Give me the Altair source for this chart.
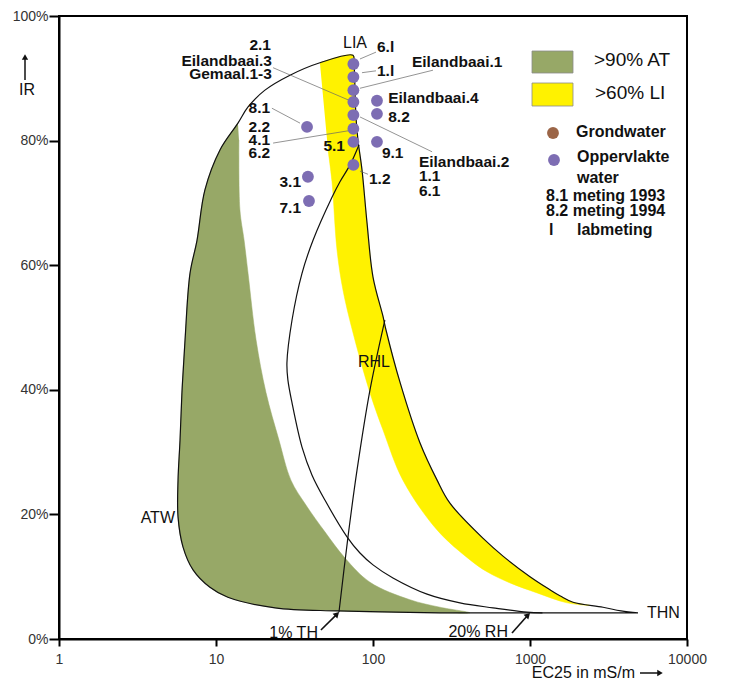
import altair as alt
import pandas as pd

# ---------------- data (EC25 in mS/m, IR in %) ----------------
# outer closed boundary: THN -> ATW -> LIA -> THN
outer_ec = [4875, 3800, 2917, 1879, 1560, 1341, 1000, 673, 515, 309, 256, 199, 149, 121, 116, 100, 91.6, 85.1,
            80.2, 77.9, 76.8, 75.7, 74.6, 45.9, 29.6, 20.5, 16.0, 13.8, 10.6, 8.5, 7.57, 6.83, 6.35, 6.07,
            5.9, 5.73, 5.73, 6.16, 7.14, 9.15, 11.9, 23.8, 59.8, 267, 1000, 4875]
outer_ir = [4.2, 4.5, 5.1, 5.9, 6.9, 7.9, 10.0, 13.3, 15.9, 21.8, 25.5, 31.5, 41.1, 49.6, 51.7, 58.1, 66.8, 75.3,
            80.1, 83.8, 88.1, 92.5, 93.7, 92.5, 90.5, 88.1, 85.4, 82.8, 78.5, 72.1, 64.0, 58.7, 48.0, 39.6,
            31.9, 25.5, 19.6, 14.8, 11.1, 8.3, 6.7, 5.0, 4.5, 4.2, 4.2, 4.2]

# inner curve
inner_ec = [81.4, 71.4, 61.6, 54.8, 41.5, 35.3, 30.5, 28.3, 28.7, 30.5, 35.3, 40.9, 49.4, 68.3, 82.6, 100,
            134, 221, 358, 581, 957, 1200]
inner_ir = [79.3, 76.1, 73.4, 70.9, 64.0, 58.7, 51.2, 44.3, 41.6, 37.9, 30.8, 26.3, 22.3, 16.4, 13.8, 11.9,
            9.8, 7.2, 5.8, 5.0, 4.3, 4.2]

# RHL line
rhl_ec = [60.7, 69.3, 79.1, 95.7, 119]
rhl_ir = [4.3, 16.4, 27.1, 40.0, 51.2]

# >90% AT area
green_ec = [13.8, 10.6, 8.5, 7.57, 6.83, 6.35, 6.07, 5.9, 5.73, 5.73, 6.16, 7.14, 9.15, 11.9, 23.8, 59.8, 267,
            415, 267, 172, 95.7, 66.3, 49.4, 37.4, 30.0, 25.2, 20.8, 18.0, 16.0, 15.1, 14.2, 14.0]
green_ir = [82.8, 78.5, 72.1, 64.0, 58.7, 48.0, 39.6, 31.9, 25.5, 19.6, 14.8, 11.1, 8.3, 6.7, 5.0, 4.5, 4.2,
            4.2, 5.1, 6.3, 9.1, 13.0, 17.2, 21.5, 25.5, 31.9, 39.6, 48.0, 58.7, 64.0, 68.9, 80.1]

# >60% LI area
yellow_ec = [45.9, 74.6, 75.7, 76.8, 77.9, 80.2, 85.1, 91.6, 100, 116, 121, 149, 199, 256, 309, 515, 673, 1000,
             1341, 1560, 1879, 2400, 1721, 1109, 746, 532, 415, 256, 155, 116, 95.7, 73.8, 64.4, 59.0, 54.8,
             51.7]
yellow_ir = [92.5, 93.7, 92.5, 88.1, 83.8, 80.1, 75.3, 66.8, 58.1, 51.7, 49.6, 41.1, 31.5, 25.5, 21.8, 15.9,
             13.3, 10.0, 7.9, 6.9, 5.9, 5.4, 5.8, 7.4, 9.0, 10.8, 12.7, 17.5, 25.5, 33.5, 39.5, 49.6, 56.0, 62.4,
             73.4, 78.5]

# surface water samples
pt_ec = [75, 75, 75, 75, 75, 75, 75, 75, 106, 106, 106, 38, 38.5, 39.1]
pt_ir = [92.3, 90.2, 88.1, 86.2, 84.1, 81.9, 79.8, 76.1, 86.4, 84.3, 79.8, 82.2, 74.2, 70.3]

# sample labels
lab_r_txt = ["6.l", "1.l", "Eilandbaai.1", "Eilandbaai.4", "8.2", "9.1", "Eilandbaai.2", "1.1", "6.1", "1.2"]
lab_r_ec = [106, 106, 177, 125, 125, 114, 196, 196, 196, 94.3]
lab_r_ir = [95.0, 91.2, 92.6, 86.8, 83.8, 78.0, 76.6, 74.3, 71.9, 73.8]
lab_l_txt = ["2.1", "Eilandbaai.3", "Gemaal.1-3", "8.1", "2.2", "4.1", "6.2", "5.1", "3.1", "7.1"]
lab_l_ec = [22.4, 22.7, 22.7, 22.1, 22.1, 22.1, 22.1, 66.3, 34.8, 34.8]
lab_l_ir = [95.3, 92.8, 90.7, 85.2, 82.2, 80.1, 78.0, 79.1, 73.4, 69.2]

# leader lines (start / end)
lead_ec0 = [82.6, 85.1, 82.6, 23.1, 22.7, 23.1, 82.6, 82.6]
lead_ir0 = [93.1, 90.9, 88.4, 91.7, 85.2, 79.6, 83.8, 75.1]
lead_ec1 = [104.5, 104.5, 241, 74.6, 34.3, 74.6, 238, 92.9]
lead_ir1 = [94.2, 91.2, 91.3, 86.2, 82.8, 81.7, 78.2, 74.6]

# curve names
ann_txt = ["LIA", "RHL"]
ann_ec = [76.8, 101.4]
ann_ir = [95.7, 44.5]
ann_r_txt = ["ATW", "1% TH", "20% RH"]
ann_r_ec = [5.48, 44.6, 724]
ann_r_ir = [19.4, 0.96, 1.1]
ann_l_txt = ["THN"]
ann_l_ec = [5560]
ann_l_ir = [4.2]

# arrows under the labels
arr_ec0 = [46.6, 768]
arr_ir0 = [1.44, 0.96]
arr_ec1 = [59.0, 971]
arr_ir1 = [4.0, 3.85]

x_ticks = [1, 10, 100, 1000, 10000]
y_ticks = [0, 20, 40, 60, 80, 100]

GREEN = "#97a867"
YELLOW = "#fff200"
PURPLE = "#7d6db3"
BROWN = "#9b6547"
FONT = "Liberation Sans"
CURVE = "catmull-rom"

# ---------------- chart ----------------
X = alt.X("ec:Q", scale=alt.Scale(type="log", domain=[1, 10000]),
          axis=alt.Axis(values=x_ticks, format="d", title="", grid=False, tickSize=7,
                        labelPadding=6, labelFontSize=14, labelFont=FONT, labelColor="#333",
                        domainColor="black", domainWidth=2, tickColor="black", tickWidth=2,
                        labelFlush=False))
Y = alt.Y("ir:Q", scale=alt.Scale(domain=[0, 100]),
          axis=alt.Axis(values=y_ticks, labelExpr="datum.value + '%'", title="", grid=False,
                        tickSize=10, labelPadding=1, labelFontSize=14, labelFont=FONT,
                        labelColor="#333", domainColor="black", domainWidth=2, tickColor="black",
                        tickWidth=2, labelFlush=False))


def seq(ec, ir, name):
    return pd.DataFrame({"ec": ec, "ir": ir, "i": list(range(len(ec))), "g": name})


green = alt.Chart(seq(green_ec, green_ir, "green")).mark_line(
    fill=GREEN, stroke=GREEN, strokeWidth=0.5, interpolate=CURVE).encode(x=X, y=Y, order="i:Q")
yellow = alt.Chart(seq(yellow_ec, yellow_ir, "yellow")).mark_line(
    fill=YELLOW, stroke=YELLOW, strokeWidth=0.5, interpolate=CURVE).encode(x=X, y=Y, order="i:Q")

curves = pd.concat([seq(outer_ec, outer_ir, "outer"), seq(inner_ec, inner_ir, "inner"),
                    seq(rhl_ec, rhl_ir, "rhl")])
lines = alt.Chart(curves).mark_line(color="#111", strokeWidth=1.2, interpolate=CURVE).encode(
    x=X, y=Y, detail="g:N", order="i:Q")

lead_df = pd.DataFrame({"ec": lead_ec0, "ir": lead_ir0, "ec2": lead_ec1, "ir2": lead_ir1})
leaders = alt.Chart(lead_df).mark_rule(color="#666", strokeWidth=0.7).encode(
    x=X, y=Y, x2="ec2:Q", y2="ir2:Q")

arr_df = pd.DataFrame({"ec": arr_ec0, "ir": arr_ir0, "ec2": arr_ec1, "ir2": arr_ir1})
arr_rules = alt.Chart(arr_df).mark_rule(color="#111", strokeWidth=1.6).encode(
    x=X, y=Y, x2="ec2:Q", y2="ir2:Q")
arr_heads = alt.Chart(pd.DataFrame({"ec": arr_ec1, "ir": arr_ir1})).mark_point(
    shape="triangle-up", angle=45, size=45, filled=True, color="#111", opacity=1).encode(x=X, y=Y)

pts = alt.Chart(pd.DataFrame({"ec": pt_ec, "ir": pt_ir})).mark_circle(
    color=PURPLE, size=140, opacity=1).encode(x=X, y=Y)


def txt(labels, ec, ir, align, weight, size=16):
    return alt.Chart(pd.DataFrame({"t": labels, "ec": ec, "ir": ir})).mark_text(
        align=align, baseline="middle", font=FONT, fontSize=size, fontWeight=weight,
        color="#111").encode(x=X, y=Y, text="t:N")


labs_r = txt(lab_r_txt, lab_r_ec, lab_r_ir, "left", "bold", 15.5)
labs_l = txt(lab_l_txt, lab_l_ec, lab_l_ir, "right", "bold", 15.5)
ann_c = txt(ann_txt, ann_ec, ann_ir, "center", "normal")
ann_r = txt(ann_r_txt, ann_r_ec, ann_r_ir, "right", "normal")
ann_l = txt(ann_l_txt, ann_l_ec, ann_l_ir, "left", "normal")

one = pd.DataFrame({"a": [0]})


def ptext(s, x, y, align="left", weight="normal", size=16):
    return alt.Chart(one).mark_text(text=s, align=align, baseline="middle", font=FONT,
                                    fontSize=size, fontWeight=weight, color="#111").encode(
        x=alt.value(x), y=alt.value(y))


def prect(x, y, x2, y2, color):
    return alt.Chart(one).mark_rect(color=color, stroke="#8a8a8a", strokeWidth=0.8).encode(
        x=alt.value(x), x2=alt.value(x2), y=alt.value(y), y2=alt.value(y2))


def pdot(x, y, color):
    return alt.Chart(one).mark_circle(color=color, size=140, opacity=1).encode(
        x=alt.value(x), y=alt.value(y))


legend = [
    prect(473, 35, 514, 57, GREEN), ptext(">90% AT", 535, 44, size=19),
    prect(473, 67, 514, 90, YELLOW), ptext(">60% LI", 536, 77, size=19),
    pdot(494, 117, BROWN), ptext("Grondwater", 517, 116, weight="bold"),
    pdot(495, 144, PURPLE), ptext("Oppervlakte", 518, 141, weight="bold"),
    ptext("water", 518, 162, weight="bold"),
    ptext("8.1 meting 1993", 487, 180, weight="bold"),
    ptext("8.2 meting 1994", 487, 195, weight="bold"),
    ptext("l", 490, 214, weight="bold"), ptext("labmeting", 518, 214, weight="bold"),
]

# axis titles with arrows
ir_title = ptext("IR", -32, 74, align="center")
ir_arrow = alt.Chart(one).mark_rule(color="#111", strokeWidth=1.5).encode(
    x=alt.value(-34), y=alt.value(42), y2=alt.value(64))
ir_head = alt.Chart(one).mark_point(shape="triangle-up", size=40, filled=True, color="#111",
                                    opacity=1).encode(x=alt.value(-34), y=alt.value(41))
ec_title = ptext("EC25 in mS/m", 576, 657, align="right")
ec_arrow = alt.Chart(one).mark_rule(color="#111", strokeWidth=1.5).encode(
    x=alt.value(581), x2=alt.value(600), y=alt.value(657))
ec_head = alt.Chart(one).mark_point(shape="triangle-right", size=40, filled=True, color="#111",
                                    opacity=1).encode(x=alt.value(601), y=alt.value(657))

chart = alt.layer(
    green, yellow, lines, leaders, arr_rules, arr_heads, pts,
    labs_r, labs_l, ann_c, ann_r, ann_l, *legend,
    ir_title, ir_arrow, ir_head, ec_title, ec_arrow, ec_head,
).properties(
    width=628, height=623,
    autosize=alt.AutoSizeParams(type="none"),
    padding={"left": 51, "top": 8, "right": 26, "bottom": 42},
).configure_view(stroke="black", strokeWidth=2)

chart.save("out.html", embed_options={"renderer": "svg", "actions": False})
